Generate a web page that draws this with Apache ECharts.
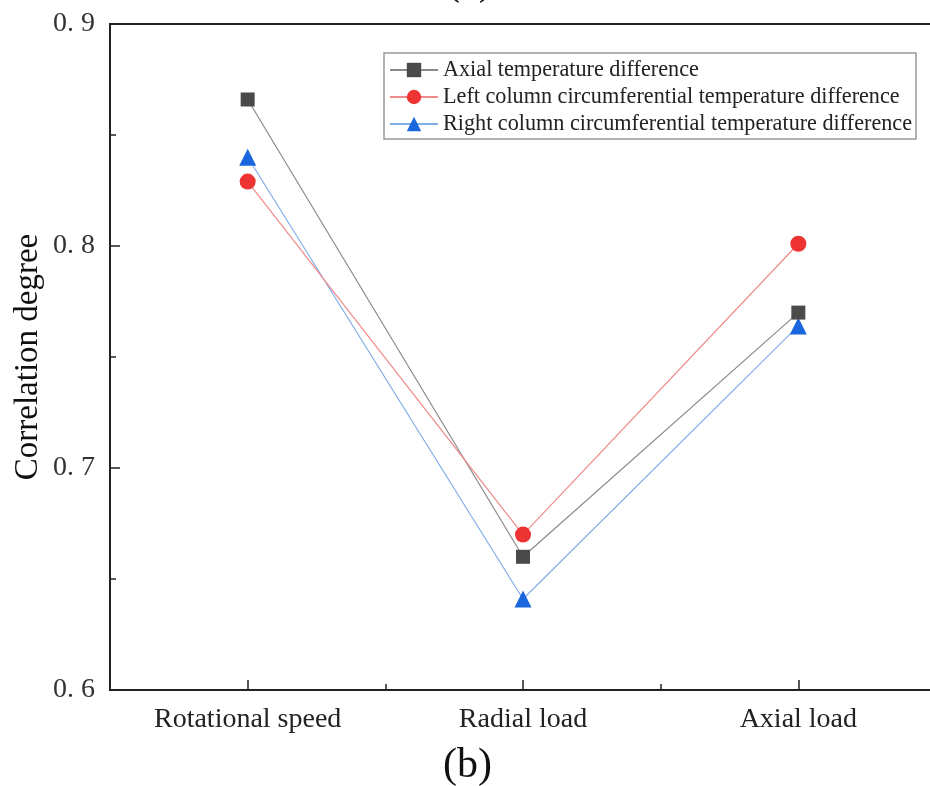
<!DOCTYPE html>
<html><head><meta charset="utf-8">
<script src="https://cdn.jsdelivr.net/npm/echarts@6/dist/echarts.min.js"></script>
<style>html,body{margin:0;padding:0;background:#fff}#c{width:930px;height:786px}</style>
</head><body><div id="c"></div>
<script>
const categories = ['Rotational speed', 'Radial load', 'Axial load'];
const axialDiff = [0.866, 0.660, 0.770];
const leftCircDiff = [0.829, 0.670, 0.801];
const rightCircDiff = [0.840, 0.641, 0.764];
const seriesNames = ['Axial temperature difference', 'Left column circumferential temperature difference', 'Right column circumferential temperature difference'];

const chart = echarts.init(document.getElementById('c'));
const serif = '"Liberation Serif", "DejaVu Serif", serif';
chart.setOption({
  animation: false,
  grid: { left: 110, top: 24, height: 666, width: 826, outerBoundsMode: 'none', containLabel: false,
    show: true, borderColor: '#222', borderWidth: 2 },
  legend: {
    orient: 'vertical', left: 384, top: 53,
    padding: [6, 4, 4, 5], borderColor: '#999', borderWidth: 1.5,
    itemWidth: 48, itemHeight: 18, itemGap: 5,
    textStyle: { fontFamily: serif, fontSize: 22.2, color: '#222' },
    data: seriesNames
  },
  xAxis: [{
    type: 'category', data: categories, position: 'bottom',
    axisLine: { lineStyle: { color: '#222', width: 2 } },
    axisTick: { show: true, alignWithLabel: true, inside: true, length: 10, lineStyle: { color: '#222', width: 1.5 } },
    axisLabel: { fontFamily: serif, fontSize: 28, color: '#222', margin: 16 }
  }, {
    type: 'category', data: categories, position: 'bottom',
    axisLine: { show: false },
    axisTick: { show: true, inside: true, length: 6, lineStyle: { color: '#222', width: 1.5 } },
    axisLabel: { show: false }
  }],
  yAxis: {
    type: 'value', min: 0.6, max: 0.9, interval: 0.1,
    name: 'Correlation degree', nameLocation: 'middle', nameGap: 65, nameMoveOverlap: false,
    nameTextStyle: { fontFamily: serif, fontSize: 33, color: '#111' },
    axisLine: { show: true, lineStyle: { color: '#222', width: 2 } },
    axisTick: { show: true, inside: true, length: 10, lineStyle: { color: '#222', width: 1.5 } },
    minorTick: { show: true, splitNumber: 2, length: 6, lineStyle: { color: '#222', width: 1.5 } },
    splitLine: { show: false },
    axisLabel: { fontFamily: serif, fontSize: 28, color: '#333', margin: 15,
      formatter: v => v.toFixed(1).replace('.', '. ') }
  },
  series: [
    { name: seriesNames[0], type: 'line', data: axialDiff, symbol: 'rect', symbolSize: 14,
      itemStyle: { color: '#4a4a4a' }, lineStyle: { color: '#8a8a8a', width: 1.2 }, z: 3 },
    { name: seriesNames[1], type: 'line', data: leftCircDiff, symbol: 'circle', symbolSize: 16,
      itemStyle: { color: '#ee3333' }, lineStyle: { color: '#f08a8a', width: 1.2 }, z: 4 },
    { name: seriesNames[2], type: 'line', data: rightCircDiff, symbol: 'triangle', symbolSize: 17,
      itemStyle: { color: '#1a66dd' }, lineStyle: { color: '#80aee8', width: 1.2 }, z: 2 }
  ],
  graphic: [
    { type: 'text', left: 443, top: 745, style: { text: '(b)', fontFamily: serif, fontSize: 42, fill: '#111' } },
    { type: 'text', left: 446, top: -38, style: { text: '(a)', fontFamily: serif, fontSize: 42, fill: '#111' } }
  ]
});
</script></body></html>
